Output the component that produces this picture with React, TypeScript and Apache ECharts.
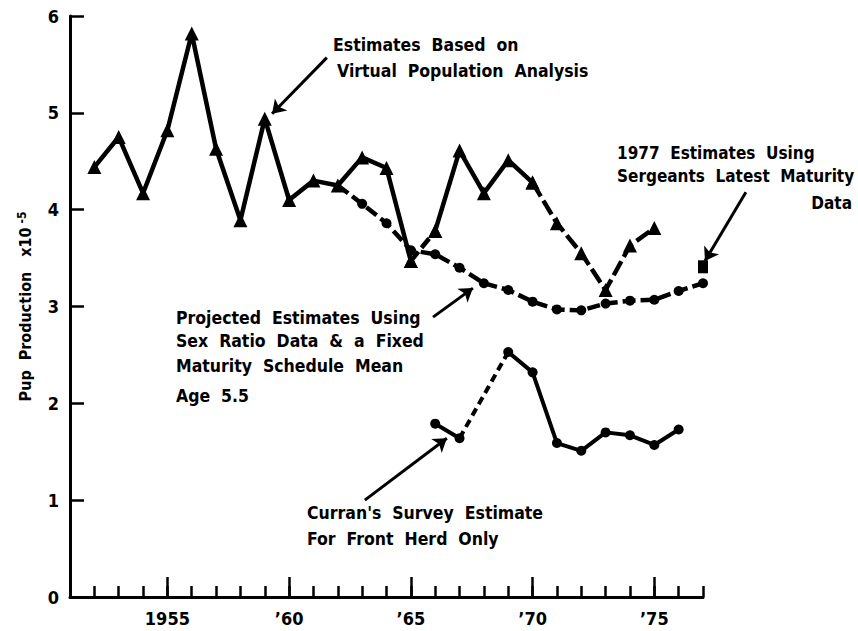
import React, { useEffect, useRef } from "react";
import * as echarts from "echarts";

// ---- data ----
const vpaYears = [1952, 1953, 1954, 1955, 1956, 1957, 1958, 1959, 1960, 1961, 1962, 1963, 1964, 1965, 1966, 1967, 1968, 1969, 1970, 1971, 1972, 1973, 1974, 1975];
const vpaValues = [4.44, 4.75, 4.17, 4.82, 5.82, 4.63, 3.89, 4.94, 4.1, 4.3, 4.25, 4.54, 4.43, 3.47, 3.78, 4.61, 4.17, 4.51, 4.28, 3.86, 3.55, 3.17, 3.63, 3.81];

const projYears = [1962, 1963, 1964, 1965, 1966, 1967, 1968, 1969, 1970, 1971, 1972, 1973, 1974, 1975, 1976, 1977];
const projValues = [4.25, 4.06, 3.86, 3.58, 3.54, 3.4, 3.24, 3.17, 3.05, 2.97, 2.96, 3.03, 3.06, 3.07, 3.16, 3.24];

const curranYears = [1966, 1967, 1969, 1970, 1971, 1972, 1973, 1974, 1975, 1976];
const curranValues = [1.79, 1.64, 2.53, 2.32, 1.59, 1.51, 1.7, 1.67, 1.57, 1.73];

const sergeantYears = [1977];
const sergeantValues = [3.41];

const majorYears = [1955, 1960, 1965, 1970, 1975];
const majorLabels = ["1955", "\u201960", "\u201965", "\u201970", "\u201975"];
const minorYears = [1952, 1953, 1954, 1955, 1956, 1957, 1958, 1959, 1960, 1961, 1962, 1963, 1964, 1965, 1966, 1967, 1968, 1969, 1970, 1971, 1972, 1973, 1974, 1975, 1976, 1977];

// annotation arrows, [from, to] in data units
const arrowAnchors = [
  [[1961.55, 5.57], [1959.3, 4.99]],
  [[1978.76, 4.18], [1977.08, 3.47]],
  [[1965.91, 2.89], [1967.55, 3.19]],
  [[1963.11, 1.0], [1966.48, 1.64]],
];

const FONT = '"DejaVu Sans Condensed", "DejaVu Sans", sans-serif';

function pick(years: number[], values: number[], from: number, to: number) {
  const out: any[] = [];
  years.forEach((y, i) => {
    if (y >= from && y <= to) out.push([y, values[i]]);
  });
  return out;
}

function lineSeries(data: any[], dashed: boolean, symbol: string, symbolSize: any, width: number, dash: number[] = [12, 5]) {
  return {
    type: "line",
    xAxisIndex: 0,
    yAxisIndex: 0,
    data,
    symbol,
    symbolSize,
    showSymbol: true,
    silent: true,
    lineStyle: { color: "#000", width, type: dashed ? dash : "solid", cap: "butt" },
    itemStyle: { color: "#000", opacity: 1 },
    z: 3,
  };
}

export default function App() {
  const ref = useRef<HTMLDivElement>(null);

  useEffect(() => {
    document.body.style.margin = "0";
    if (!ref.current) return;
    const chart = echarts.init(ref.current, null, { renderer: "svg" });

    const projData = projYears.map((y, i) =>
      i === 0 ? { value: [y, projValues[i]], symbol: "none" } : [y, projValues[i]]
    );

    const text = (t: string, left: number, top: number, size = 17.5, extra: any = {}) => ({
      type: "text",
      left,
      top,
      silent: true,
      style: { text: t, font: `bold ${size}px ${FONT}`, fill: "#000", ...extra },
    });

    const option: any = {
      animation: false,
      backgroundColor: "#fff",
      grid: { left: 70, right: 155, top: 16, bottom: 34, containLabel: false, outerBoundsMode: "none" },
      xAxis: [
        {
          type: "value",
          min: 1951,
          max: 1977,
          position: "bottom",
          axisLine: { show: true, onZero: false, lineStyle: { color: "#000", width: 3 } },
          axisTick: {
            show: true,
            inside: true,
            length: 20,
            customValues: majorYears,
            lineStyle: { color: "#000", width: 2.5 },
          },
          axisLabel: {
            show: true,
            customValues: majorYears,
            margin: 12,
            color: "#000",
            fontSize: 18,
            fontWeight: "bold",
            fontFamily: FONT,
            formatter: (v: number) => majorLabels[majorYears.indexOf(v)] ?? "",
          },
          splitLine: { show: false },
        },
        {
          type: "value",
          min: 1951,
          max: 1977,
          position: "bottom",
          axisLine: { show: false },
          axisTick: {
            show: true,
            inside: true,
            length: 11,
            customValues: minorYears,
            lineStyle: { color: "#000", width: 2.5 },
          },
          axisLabel: { show: false },
          splitLine: { show: false },
        },
      ],
      yAxis: {
        type: "value",
        min: 0,
        max: 6,
        interval: 1,
        name: "{n|Pup  Production   x10}{s| -5}",
        nameLocation: "middle",
        nameRotate: 90,
        nameGap: 36,
        nameTextStyle: {
          rich: {
            n: { fontSize: 16, fontWeight: "bold", fontFamily: FONT, color: "#000" },
            s: { fontSize: 12, fontWeight: "bold", fontFamily: FONT, color: "#000", verticalAlign: "top", padding: [0, 0, 6, 0] },
          },
        },
        axisLine: { show: true, onZero: false, lineStyle: { color: "#000", width: 3 } },
        axisTick: { show: true, inside: true, length: 14, lineStyle: { color: "#000", width: 2.5 } },
        axisLabel: { margin: 11, color: "#000", fontSize: 18, fontWeight: "bold", fontFamily: FONT },
        splitLine: { show: false },
      },
      series: [
        lineSeries(pick(vpaYears, vpaValues, 1952, 1965), false, "triangle", 14, 4.5),
        lineSeries(pick(vpaYears, vpaValues, 1965, 1966), true, "triangle", 14, 4.5),
        lineSeries(pick(vpaYears, vpaValues, 1966, 1970), false, "triangle", 14, 4.5),
        lineSeries(pick(vpaYears, vpaValues, 1970, 1975), true, "triangle", 14, 4.5, [16, 5]),
        lineSeries(projData, true, "circle", 10, 4.5, [13, 5]),
        lineSeries(pick(curranYears, curranValues, 1966, 1967), false, "circle", 10, 4),
        lineSeries(pick(curranYears, curranValues, 1967, 1969), true, "none", 0, 4, [8, 5]),
        lineSeries(pick(curranYears, curranValues, 1969, 1976), false, "circle", 10, 4),
        {
          type: "scatter",
          xAxisIndex: 0,
          yAxisIndex: 0,
          data: sergeantYears.map((y, i) => [y, sergeantValues[i]]),
          symbol: "rect",
          symbolSize: [10, 13],
          itemStyle: { color: "#000", opacity: 1 },
          silent: true,
          z: 4,
        },
        {
          type: "lines",
          coordinateSystem: "cartesian2d",
          xAxisIndex: 0,
          yAxisIndex: 0,
          clip: false,
          silent: true,
          symbol: ["none", "arrow"],
          symbolSize: 13,
          lineStyle: { color: "#000", width: 3, opacity: 1, curveness: 0 },
          data: arrowAnchors.map((c) => ({ coords: c })),
          z: 5,
        },
      ],
      graphic: [
        text("Estimates  Based  on", 333, 36),
        text("Virtual  Population  Analysis", 337, 62),
        text("1977  Estimates  Using", 617, 144, 17),
        text("Sergeants  Latest  Maturity", 617, 167, 17),
        { ...text("Data", 0, 194, 17), left: undefined, right: 6 },
        text("Projected  Estimates  Using", 176, 309),
        text("Sex  Ratio  Data  &  a  Fixed", 176, 332),
        text("Maturity  Schedule  Mean", 176, 357),
        text("Age  5.5", 176, 387),
        text("Curran's  Survey  Estimate", 307, 504),
        text("For  Front  Herd  Only", 307, 530),
      ],
    };

    chart.setOption(option);
    return () => chart.dispose();
  }, []);

  return <div ref={ref} style={{ width: 858, height: 631 }} />;
}
